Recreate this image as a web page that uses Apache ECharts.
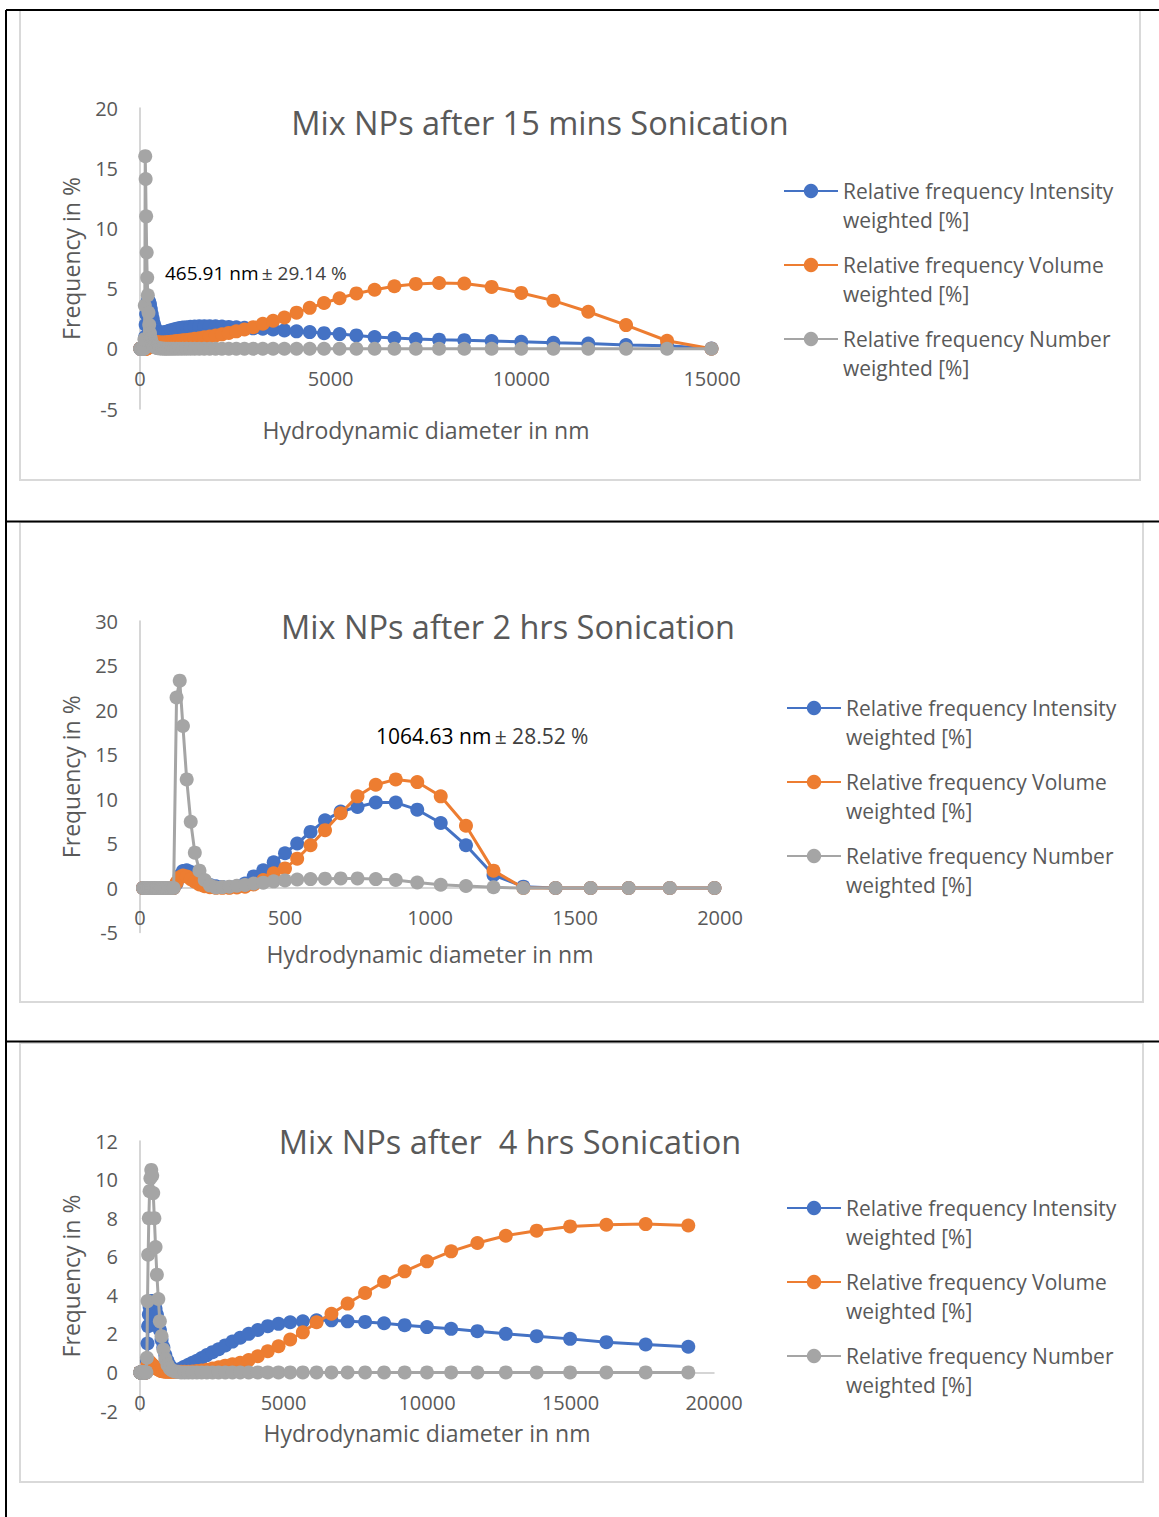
<!DOCTYPE html>
<html><head><meta charset="utf-8">
<script src="https://cdn.jsdelivr.net/npm/echarts@6/dist/echarts.min.js"></script>
<style>html,body{margin:0;padding:0;background:#fff}#c{width:1159px;height:1517px}</style>
</head><body><div id="c"></div>
<script>
// ---------------- DATA ----------------
// Hydrodynamic diameter bins (nm), shared by the three measurements
const diameters = [
  10.3, 11.2, 12.1, 13.1, 14.2, 15.4, 16.7, 18.1, 19.7, 21.3,
  23.1, 25.1, 27.2, 29.5, 32, 35, 38, 41, 44, 48,
  52, 56, 61, 66, 72, 78, 84, 91, 99, 107,
  116, 126, 137, 148, 161, 175, 189, 205, 223, 241,
  262, 284, 308, 334, 362, 392, 425, 461, 500, 542,
  588, 638, 692, 750, 813, 882, 956, 1037, 1124, 1219,
  1322, 1433, 1554, 1685, 1827, 1981, 2148, 2329, 2526, 2739,
  2970, 3220, 3491, 3786, 4105, 4451, 4826, 5233, 5674, 6152,
  6671, 7233, 7843, 8504, 9221, 9998, 10841, 11755, 12746, 13821,
  14986, 16249, 17619, 19104
];

// 15 mins sonication
const intensity15 = [
  0,0,0,0,0,0,0,0,0,0,
  0,0,0,0,0,0,0,0,0,0,
  0,0,0,0,0,0,0,0,0,0,
  0, 0.3, 1.0, 2.0, 2.9, 3.5, 3.8, 4.0, 4.0, 3.9,
  3.7, 3.3, 2.9, 2.5, 2.1, 1.8, 1.55, 1.4, 1.35, 1.33,
  1.35, 1.38, 1.42, 1.48, 1.55, 1.6, 1.66, 1.72, 1.76, 1.8,
  1.83, 1.85, 1.87, 1.88, 1.88, 1.87, 1.85, 1.82, 1.78, 1.74,
  1.7, 1.67, 1.6, 1.53, 1.45, 1.39, 1.3, 1.22, 1.11, 0.98,
  0.89, 0.81, 0.76, 0.72, 0.65, 0.58, 0.5, 0.43, 0.32, 0.25,
  0.03
];
const volume15 = [
  0,0,0,0,0,0,0,0,0,0,
  0,0,0,0,0,0,0,0,0,0,
  0,0,0,0,0,0,0,0,0,0,
  0, 0, 0, 0, 0.01, 0.02, 0.04, 0.07, 0.12, 0.2,
  0.3, 0.4, 0.5, 0.58, 0.6, 0.6, 0.57, 0.55, 0.53, 0.52,
  0.52, 0.53, 0.54, 0.56, 0.58, 0.6, 0.64, 0.67, 0.7, 0.74,
  0.78, 0.83, 0.88, 0.95, 1.02, 1.1, 1.2, 1.32, 1.45, 1.6,
  1.8, 2.08, 2.33, 2.6, 3.0, 3.4, 3.8, 4.2, 4.6, 4.9,
  5.2, 5.39, 5.47, 5.42, 5.14, 4.64, 4.0, 3.08, 1.97, 0.67,
  0
];
const number15 = [
  0,0,0,0,0,0,0,0,0,0,
  0,0,0,0,0,0,0,0,0,0,
  0,0,0,0,0,0,0,0,0,0,
  0.8, 3.6, 16.0, 14.1, 11.0, 8.0, 5.9, 4.45, 3.0, 2.0,
  1.3, 0.85, 0.55, 0.35, 0.22, 0.14, 0.09, 0.06, 0.04, 0.03,
  0.02, 0.01, 0,0,0,0,0,0,0,0,
  0,0,0,0,0,0,0,0,0,0,
  0,0,0,0,0,0,0,0,0,0,
  0,0,0,0,0,0,0,0,0,0,
  0
];

// 2 hrs sonication
const intensity2h = [
  0,0,0,0,0,0,0,0,0,0,
  0,0,0,0,0,0,0,0,0,0,
  0,0,0,0,0,0,0,0,0,0,
  0, 0.5, 1.4, 1.9, 2.0, 1.8, 1.4, 1.0, 0.6, 0.35,
  0.2, 0.1, 0.08, 0.2, 0.5, 1.3, 2.0, 2.9, 3.9, 5.0,
  6.3, 7.6, 8.6, 9.1, 9.6, 9.6, 8.8, 7.3, 4.8, 1.46,
  0.15, 0, 0, 0, 0, 0
];
const volume2h = [
  0,0,0,0,0,0,0,0,0,0,
  0,0,0,0,0,0,0,0,0,0,
  0,0,0,0,0,0,0,0,0,0,
  0, 0.6, 1.2, 1.4, 1.3, 1.0, 0.7, 0.4, 0.2, 0.08,
  0.02, 0.02, 0.02, 0.05, 0.15, 0.4, 0.9, 1.65, 2.2, 3.3,
  4.8, 6.5, 8.4, 10.3, 11.6, 12.2, 11.9, 10.3, 7.0, 1.95,
  0, 0, 0, 0, 0, 0
];
const number2h = [
  0,0,0,0,0,0,0,0,0,0,
  0,0,0,0,0,0,0,0,0,0,
  0,0,0,0,0,0,0,0,0,0,
  0, 21.4, 23.3, 18.2, 12.2, 7.45, 3.97, 1.95, 0.9, 0.3,
  0.05, 0.1, 0.15, 0.25, 0.35, 0.5, 0.6, 0.75, 0.85, 0.95,
  1.0, 1.05, 1.08, 1.08, 1.0, 0.9, 0.62, 0.36, 0.22, 0.08,
  0, 0, 0, 0, 0, 0
];

// 4 hrs sonication
const intensity4h = [
  0,0,0,0,0,0,0,0,0,0,
  0,0,0,0,0,0,0,0,0,0,
  0,0,0,0,0,0,0,0,0,0,
  0,0,0,0,0,0,0,0, 0.1, 0.6,
  1.5, 2.4, 3.0, 3.4, 3.6, 3.7, 3.7, 3.65, 3.5, 3.3,
  3.0, 2.6, 2.2, 1.7, 1.3, 0.9, 0.6, 0.35, 0.2, 0.12,
  0.12, 0.2, 0.3, 0.4, 0.5, 0.6, 0.75, 0.9, 1.05, 1.2,
  1.4, 1.6, 1.8, 2.0, 2.2, 2.4, 2.52, 2.6, 2.65, 2.7,
  2.7, 2.65, 2.62, 2.55, 2.45, 2.35, 2.26, 2.14, 2.0, 1.88,
  1.74, 1.57, 1.45, 1.33
];
const volume4h = [
  0,0,0,0,0,0,0,0,0,0,
  0,0,0,0,0,0,0,0,0,0,
  0,0,0,0,0,0,0,0,0,0,
  0,0,0,0,0,0,0,0, 0.05, 0.2,
  0.4, 0.5, 0.55, 0.55, 0.5, 0.45, 0.4, 0.35, 0.3, 0.25,
  0.2, 0.15, 0.1, 0.07, 0.05, 0.04, 0.03, 0.03, 0.03, 0.03,
  0.03, 0.03, 0.03, 0.04, 0.05, 0.07, 0.1, 0.14, 0.2, 0.27,
  0.35, 0.42, 0.5, 0.64, 0.84, 1.1, 1.36, 1.71, 2.08, 2.6,
  3.04, 3.57, 4.12, 4.7, 5.24, 5.76, 6.28, 6.71, 7.09, 7.35,
  7.57, 7.66, 7.69, 7.62
];
const number4h = [
  0,0,0,0,0,0,0,0,0,0,
  0,0,0,0,0,0,0,0,0,0,
  0,0,0,0,0,0,0,0,0,0,
  0,0,0,0,0,0,0,0,0, 0.76,
  3.7, 6.1, 8.0, 9.4, 10.07, 10.5, 10.2, 9.3, 8.0, 6.5,
  5.07, 3.81, 2.65, 1.88, 1.19, 0.7, 0.4, 0.2, 0.1, 0.05,
  0.02, 0,0,0,0,0,0,0,0,0,
  0,0,0,0,0,0,0,0,0,0,
  0,0,0,0,0,0,0,0,0,0,
  0,0,0,0
];

const seriesNames = [
  'Relative frequency Intensity weighted [%]',
  'Relative frequency Volume weighted [%]',
  'Relative frequency Number weighted [%]'
];
const chartTitles = [
  'Mix NPs after 15 mins Sonication',
  'Mix NPs after 2 hrs Sonication',
  'Mix NPs after  4 hrs Sonication'
];
const xAxisTitle = 'Hydrodynamic diameter in nm';
const yAxisTitle = 'Frequency in %';
// [min, max, interval]
const xRanges = [[0, 15000, 5000], [0, 2000, 500], [0, 20000, 5000]];
const yRanges = [[-5, 20, 5], [-5, 30, 5], [-2, 12, 2]];
const annotations = [['465.91 nm', '± 29.14 %'], ['1064.63 nm', '± 28.52 %'], null];

// ---------------- STYLE / LAYOUT ----------------
const colors = ['#4472C4', '#ED7D31', '#A5A5A5'];
const FONT = "'Open Sans', 'Noto Sans', sans-serif";
const TXT = '#595959';
const AXIS = '#c8c8c8';
const layout = [
  { grid: {left: 140, top: 108, width: 572, height: 301}, box: [20, 10, 1120, 470],
    title: [540, 122], legend: [783, 191], xLabelMargin: 20, xNameGap: 70, note: [165, 273, 19] },
  { grid: {left: 140, top: 621, width: 580, height: 311.5}, box: [20, 522, 1123, 480],
    title: [508, 626], legend: [786, 708], xLabelMargin: 19, xNameGap: 54, note: [376, 736, 21] },
  { grid: {left: 140, top: 1141, width: 574, height: 270}, box: [20, 1043, 1123, 439],
    title: [510, 1141], legend: [786, 1208], xLabelMargin: 20, xNameGap: 49, note: null }
];
const seriesSets = [
  [intensity15, volume15, number15],
  [intensity2h, volume2h, number2h],
  [intensity4h, volume4h, number4h]
];

const grids = [], xAxes = [], yAxes = [], series = [], legends = [], graphics = [];

// page borders (table lines)
graphics.push({type: 'line', shape: {x1: 6, y1: 10, x2: 1159, y2: 10}, style: {stroke: '#000', lineWidth: 2}});
graphics.push({type: 'line', shape: {x1: 6, y1: 10, x2: 6, y2: 1517}, style: {stroke: '#000', lineWidth: 2}});
graphics.push({type: 'line', shape: {x1: 6, y1: 521.5, x2: 1159, y2: 521.5}, style: {stroke: '#000', lineWidth: 2}});
graphics.push({type: 'line', shape: {x1: 6, y1: 1041.5, x2: 1159, y2: 1041.5}, style: {stroke: '#000', lineWidth: 2}});

layout.forEach((L, c) => {
  graphics.push({type: 'rect', shape: {x: L.box[0], y: L.box[1], width: L.box[2], height: L.box[3]},
    style: {fill: 'none', stroke: '#d9d9d9', lineWidth: 2}, z: -1});
  graphics.push({type: 'text', x: L.title[0], y: L.title[1],
    style: {text: chartTitles[c], fill: TXT, font: '32.5px ' + FONT, align: 'center', verticalAlign: 'middle'}});
  if (annotations[c]) {
    const n = L.note;
    graphics.push({type: 'text', x: n[0], y: n[1],
      style: {text: '{a|' + annotations[c][0] + '} {b|' + annotations[c][1] + '}', verticalAlign: 'middle', align: 'left',
        rich: {a: {fill: '#000', fontSize: n[2], fontFamily: FONT},
               b: {fill: '#404040', fontSize: n[2], fontFamily: FONT}}}});
  }
  grids.push(Object.assign({outerBoundsMode: 'none', containLabel: false}, L.grid));
  // x axis crosses the y axis at value 0
  const zeroOffset = -((0 - yRanges[c][0]) / (yRanges[c][1] - yRanges[c][0])) * L.grid.height;
  xAxes.push({
    type: 'value', gridIndex: c, min: xRanges[c][0], max: xRanges[c][1], interval: xRanges[c][2],
    position: 'bottom', offset: zeroOffset,
    axisLine: {show: true, onZero: false, lineStyle: {color: AXIS, width: 1.5}},
    axisTick: {show: false}, splitLine: {show: false},
    axisLabel: {color: TXT, fontSize: 20, fontFamily: FONT, margin: L.xLabelMargin, formatter: v => String(v)},
    name: xAxisTitle, nameLocation: 'middle', nameGap: L.xNameGap,
    nameTextStyle: {color: TXT, fontSize: 23, fontFamily: FONT}
  });
  yAxes.push({
    type: 'value', gridIndex: c, min: yRanges[c][0], max: yRanges[c][1], interval: yRanges[c][2],
    axisLine: {show: true, lineStyle: {color: AXIS, width: 1.5}},
    axisTick: {show: false}, splitLine: {show: false},
    axisLabel: {color: TXT, fontSize: 20, fontFamily: FONT, margin: 22},
    name: yAxisTitle, nameLocation: 'middle', nameGap: 58,
    nameTextStyle: {color: TXT, fontSize: 23, fontFamily: FONT}
  });
  seriesSets[c].forEach((vals, s) => {
    series.push({
      type: 'line', name: seriesNames[s], xAxisIndex: c, yAxisIndex: c,
      data: vals.map((v, i) => [diameters[i], v]),
      symbol: 'circle', symbolSize: 14, showSymbol: true, clip: false,
      itemStyle: {color: colors[s]}, lineStyle: {color: colors[s], width: 3},
      emphasis: {disabled: true}, z: 2 + s
    });
  });
  legends.push({
    left: L.legend[0], top: L.legend[1] - 43.5, orient: 'vertical', padding: 0,
    itemWidth: 54, itemHeight: 18, itemGap: -13,
    data: seriesNames,
    formatter: name => ' \n' + name.replace(' weighted', '\nweighted'),
    textStyle: {color: TXT, fontSize: 21, fontFamily: FONT, lineHeight: 29},
    selectedMode: false
  });
});

const chart = echarts.init(document.getElementById('c'), null, {renderer: 'svg'});
chart.setOption({
  animation: false,
  color: colors,
  grid: grids, xAxis: xAxes, yAxis: yAxes, series: series, legend: legends,
  graphic: {elements: graphics}
});
</script></body></html>
